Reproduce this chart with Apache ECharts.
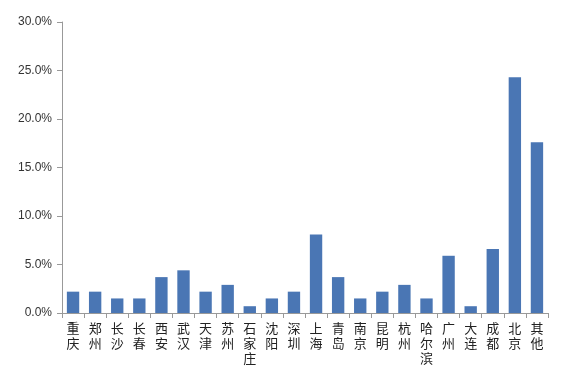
<!DOCTYPE html>
<html><head><meta charset="utf-8">
<script src="https://cdn.jsdelivr.net/npm/echarts@6/dist/echarts.min.js"></script>
<style>html,body{margin:0;padding:0;background:#fff}#c{width:580px;height:375px}</style>
</head><body><div id="c"></div>
<script>
const categories = ['重庆','郑州','长沙','长春','西安','武汉','天津','苏州','石家庄','沈阳','深圳','上海','青岛','南京','昆明','杭州','哈尔滨','广州','大连','成都','北京','其他'];
const values = [2.2,2.2,1.5,1.5,3.7,4.4,2.2,2.9,0.7,1.5,2.2,8.1,3.7,1.5,2.2,2.9,1.5,5.9,0.7,6.6,24.3,17.6];
const yTicks = [0,5,10,15,20,25,30];
const chart = echarts.init(document.getElementById('c'));
chart.setOption({
  animation:false,
  grid:{left:62,right:32,top:22,bottom:62},
  xAxis:{type:'category',data:categories,
    axisLine:{lineStyle:{color:'#999'}},
    axisTick:{show:true,alignWithLabel:false,length:5,lineStyle:{color:'#999'}},
    axisLabel:{interval:0,margin:8,color:'#222',fontSize:13,lineHeight:15,
      fontFamily:'Noto Sans CJK SC',formatter:v=>v.split('').join('\n')}},
  yAxis:{type:'value',min:yTicks[0],max:yTicks[yTicks.length-1],interval:5,
    splitLine:{show:false},
    axisLine:{show:true,lineStyle:{color:'#999'}},
    axisTick:{show:true,length:5,lineStyle:{color:'#999'}},
    axisLabel:{color:'#333',fontSize:12,fontFamily:'Liberation Sans',margin:10,formatter:v=>v.toFixed(1)+'%'}},
  series:[{type:'bar',data:values,barCategoryGap:'44%',itemStyle:{color:'#4a76b4'}}]
});
</script></body></html>
